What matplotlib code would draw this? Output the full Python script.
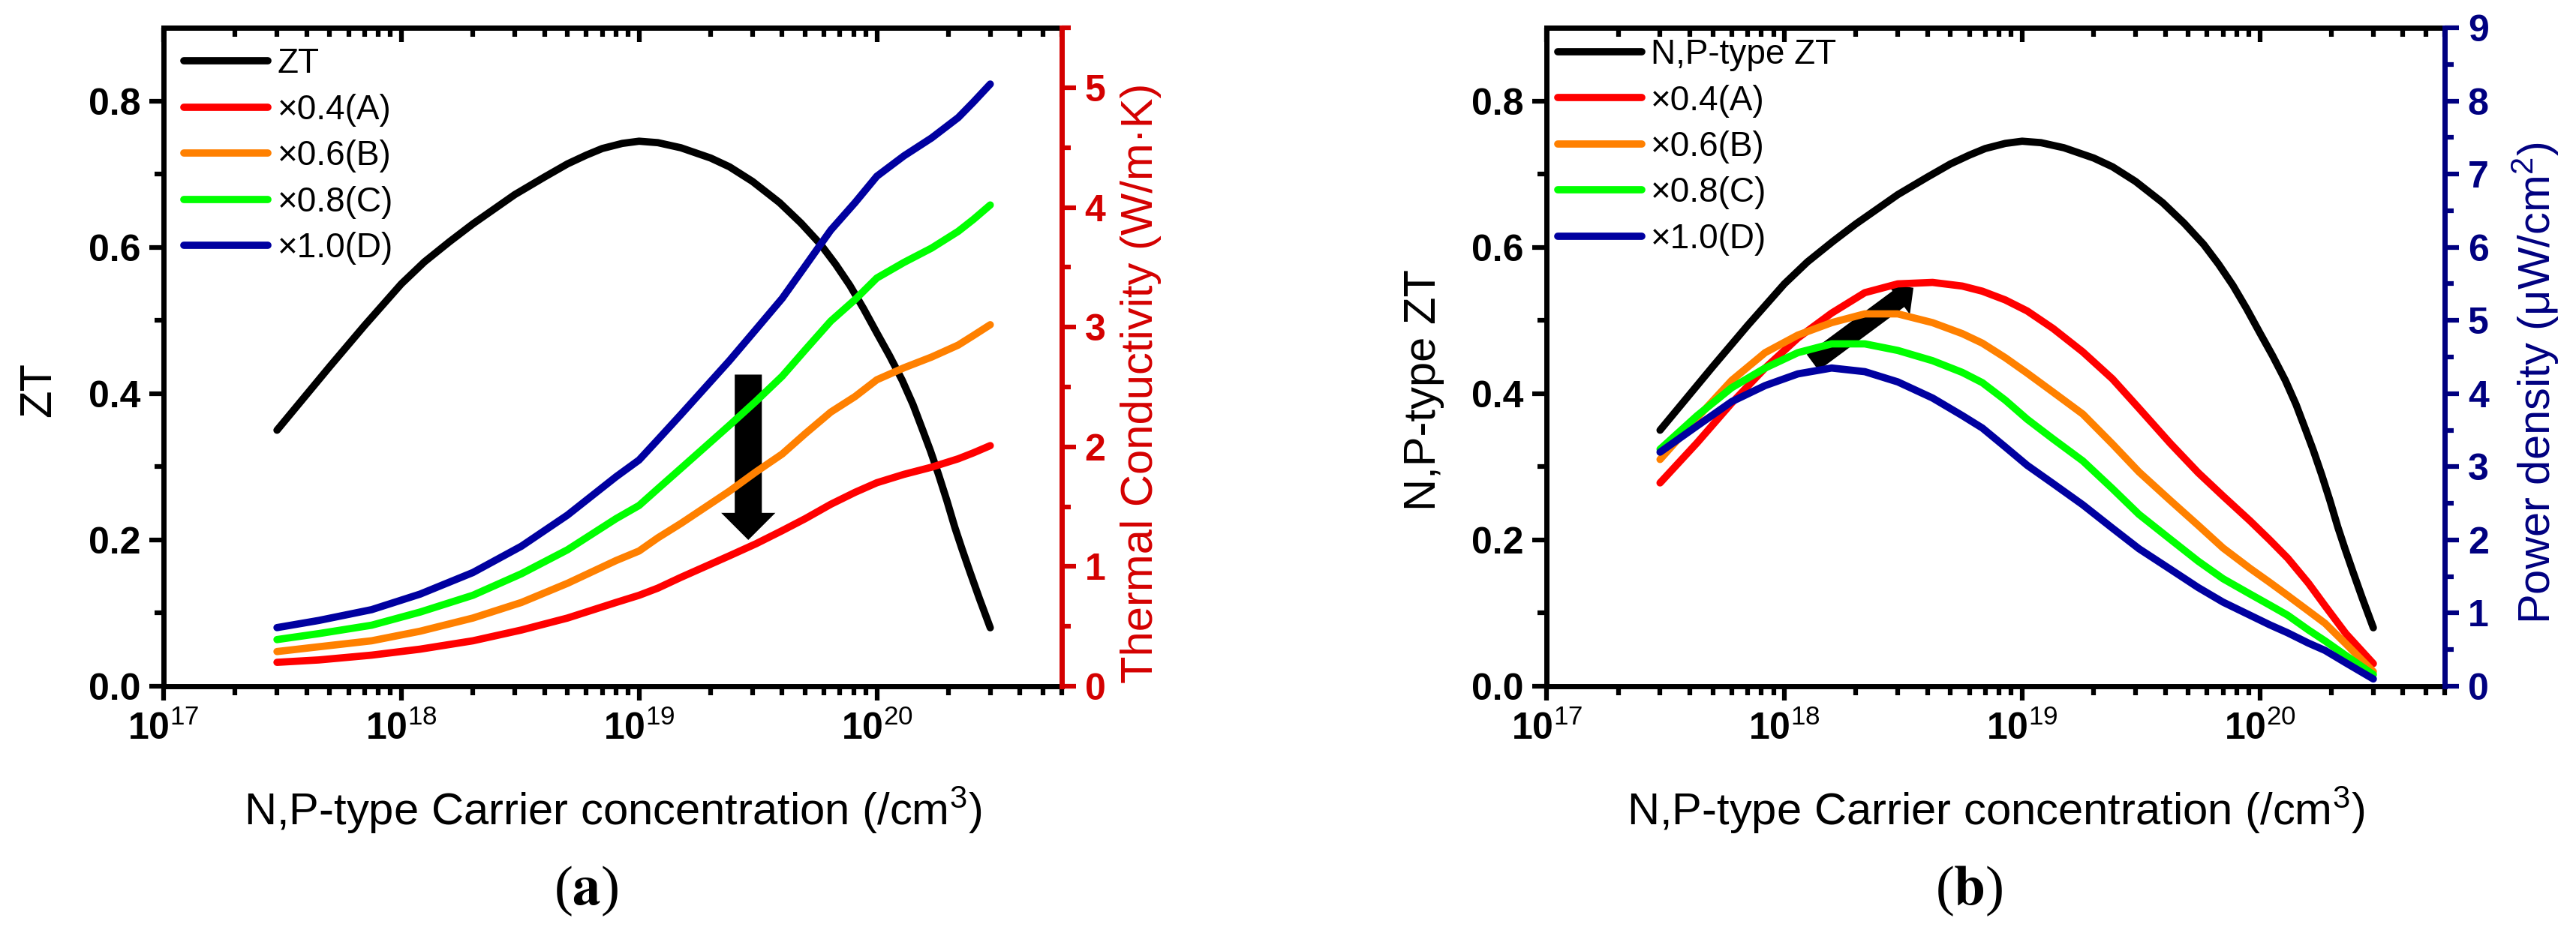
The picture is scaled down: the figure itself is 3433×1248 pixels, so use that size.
import numpy as np
import matplotlib.pyplot as plt
from matplotlib.ticker import LogLocator, NullFormatter
from matplotlib.patches import FancyArrowPatch

plt.rcParams['font.family'] = ['Liberation Sans', 'DejaVu Sans']
plt.rcParams['mathtext.fontset'] = 'custom'
plt.rcParams['mathtext.rm'] = 'Liberation Sans'
plt.rcParams['mathtext.it'] = 'Liberation Sans:italic'
plt.rcParams['mathtext.bf'] = 'Liberation Sans:bold'
plt.rcParams['lines.solid_capstyle'] = 'round'
plt.rcParams['lines.solid_joinstyle'] = 'round'

# ZT curve (same in both panels)
x_zt = [3e17, 5e17, 7e17, 1e18, 1.25e18, 1.6e18, 2e18, 2.5e18, 3e18, 4e18, 5e18, 6e18,
        7e18, 8.5e18, 1e19, 1.2e19, 1.5e19, 2e19, 2.4e19, 3e19, 3.9e19, 4.8e19, 5.8e19,
        6.7e19, 7.7e19, 8.8e19, 1e20, 1.13e20, 1.28e20, 1.42e20, 1.56e20, 1.68e20,
        1.82e20, 1.97e20, 2.13e20, 2.28e20, 2.46e20, 2.7e20, 3e20]
zt = [0.350, 0.437, 0.493, 0.550, 0.580, 0.608, 0.632, 0.654, 0.672, 0.696, 0.714, 0.726,
      0.735, 0.742, 0.745, 0.743, 0.736, 0.722, 0.710, 0.690, 0.661, 0.633, 0.604,
      0.577, 0.548, 0.516, 0.483, 0.452, 0.418, 0.385, 0.350, 0.322,
      0.289, 0.254, 0.217, 0.188, 0.157, 0.120, 0.080]

# (a) thermal conductivity, W/m.K
x_k = [3e17, 4.5e17, 7.5e17, 1.2e18, 2e18, 3.2e18, 5e18, 8e18, 1e19, 1.2e19, 1.5e19,
       2.4e19, 3.1e19, 4e19, 5e19, 6.4e19, 8.1e19, 1e20, 1.3e20, 1.7e20, 2.2e20,
       2.55e20, 3e20]
k_a = [0.20, 0.22, 0.26, 0.31, 0.38, 0.47, 0.57, 0.70, 0.76, 0.82, 0.91, 1.09, 1.19,
       1.30, 1.40, 1.52, 1.62, 1.70, 1.77, 1.83, 1.90, 1.95, 2.01]
k_b = [0.29, 0.33, 0.38, 0.46, 0.57, 0.70, 0.86, 1.05, 1.13, 1.24, 1.36, 1.63, 1.79,
       1.94, 2.11, 2.29, 2.42, 2.56, 2.66, 2.75, 2.85, 2.93, 3.02]
k_c = [0.39, 0.44, 0.51, 0.62, 0.76, 0.94, 1.14, 1.40, 1.51, 1.65, 1.82, 2.18, 2.38,
       2.59, 2.81, 3.05, 3.23, 3.41, 3.54, 3.66, 3.80, 3.90, 4.02]
k_d = [0.49, 0.55, 0.64, 0.77, 0.95, 1.17, 1.43, 1.75, 1.89, 2.06, 2.27, 2.72, 2.98,
       3.24, 3.51, 3.81, 4.04, 4.26, 4.43, 4.58, 4.75, 4.88, 5.03]

# (b) power density, uW/cm2
x_p = [3e17, 4.3e17, 6e17, 8.3e17, 1.14e18, 1.58e18, 2.18e18, 3e18, 4.2e18, 5.6e18,
       6.8e18, 8.5e18, 1.05e19, 1.35e19, 1.8e19, 2.4e19, 3.1e19, 4.2e19, 5.5e19, 7e19,
       9.1e19, 1.1e20, 1.31e20, 1.6e20, 1.88e20, 2.3e20, 3e20]
p_a = [2.78, 3.33, 3.87, 4.35, 4.76, 5.10, 5.38, 5.50, 5.52, 5.47, 5.40, 5.28, 5.13,
       4.89, 4.57, 4.20, 3.80, 3.32, 2.92, 2.60, 2.26, 2.00, 1.75, 1.41, 1.10, 0.72, 0.31]
p_b = [3.10, 3.67, 4.18, 4.56, 4.80, 4.97, 5.09, 5.09, 4.97, 4.82, 4.69, 4.49, 4.28,
       4.02, 3.72, 3.31, 2.93, 2.54, 2.20, 1.89, 1.61, 1.42, 1.24, 1.03, 0.86, 0.58, 0.20]
p_c = [3.24, 3.70, 4.08, 4.35, 4.56, 4.68, 4.68, 4.59, 4.45, 4.29, 4.15, 3.91, 3.65,
       3.38, 3.08, 2.70, 2.35, 2.01, 1.71, 1.47, 1.26, 1.11, 0.97, 0.77, 0.62, 0.42, 0.16]
p_d = [3.20, 3.56, 3.89, 4.11, 4.27, 4.35, 4.30, 4.16, 3.94, 3.70, 3.53, 3.27, 3.02,
       2.77, 2.48, 2.16, 1.88, 1.60, 1.35, 1.15, 0.97, 0.84, 0.73, 0.59, 0.49, 0.32, 0.10]

factor_labels = ['×0.4(A)', '×0.6(B)', '×0.8(C)', '×1.0(D)']
colors = ['#FF0000', '#FF8000', '#00FF00', '#0000A0']

x_ticks = [1e17, 1e18, 1e19, 1e20]
x_ticklabels = [r'$\mathbf{10}^{\mathrm{%d}}$' % e for e in (17, 18, 19, 20)]
zt_ticks = [0.0, 0.2, 0.4, 0.6, 0.8]

RED_AX = '#D40000'
NAVY = '#000080'
LW = 7
SP = 5
FS_TICK = 36
FS_LAB = 43


def setup_axes(ax, ax_r, rcolor, rmax, rlabel, llabel, lx, rx):
    ax.set_xscale('log')
    ax.set_xlim(1e17, 6e20)
    ax.set_ylim(0, 0.9)
    ax_r.set_ylim(0, rmax)

    ax.set_xticks(x_ticks, x_ticklabels, fontsize=FS_TICK)
    ax.xaxis.set_minor_locator(LogLocator(base=10, subs=np.arange(2, 10), numticks=100))
    ax.xaxis.set_minor_formatter(NullFormatter())
    ax.set_yticks(zt_ticks, ['%.1f' % t for t in zt_ticks], fontsize=FS_TICK, fontweight='bold')
    ax.set_yticks([0.1, 0.3, 0.5, 0.7], minor=True)

    ax.tick_params(which='major', length=14, width=4.5, direction='out')
    ax.tick_params(which='minor', length=8.5, width=4.5, direction='out')
    ax.tick_params(axis='x', which='major', pad=10)
    ax.tick_params(axis='y', which='major', pad=8)

    for s in ['left', 'bottom', 'top']:
        ax.spines[s].set_linewidth(SP)
    ax.spines['right'].set_visible(False)

    # inward ticks along the top edge
    top = ax.secondary_xaxis('top')
    top.set_xticks(x_ticks)
    top.xaxis.set_major_formatter(NullFormatter())
    top.xaxis.set_minor_locator(LogLocator(base=10, subs=np.arange(2, 10), numticks=100))
    top.xaxis.set_minor_formatter(NullFormatter())
    top.tick_params(which='major', direction='in', length=14, width=4.5)
    top.tick_params(which='minor', direction='in', length=8.5, width=4.5)
    top.spines['top'].set_linewidth(SP)

    rt = list(range(0, int(rmax) + 1))
    ax_r.set_yticks(rt, [str(t) for t in rt], fontsize=FS_TICK, fontweight='bold', color=rcolor)
    ax_r.set_yticks([t + 0.5 for t in rt if t + 0.5 <= rmax], minor=True)
    ax_r.tick_params(which='major', length=14, width=4.5, direction='out', color=rcolor, pad=8)
    ax_r.tick_params(which='minor', length=8.5, width=4.5, direction='out', color=rcolor)
    for s in ['left', 'bottom', 'top']:
        ax_r.spines[s].set_visible(False)
    ax_r.spines['right'].set_linewidth(SP)
    ax_r.spines['right'].set_color(rcolor)

    ax.set_xlabel('N,P-type Carrier concentration (/cm$^{3}$)', fontsize=FS_LAB)
    ax.xaxis.set_label_coords(0.5, -0.15)
    ax.set_ylabel(llabel, fontsize=FS_LAB)
    ax.yaxis.set_label_coords(lx, 0.45)
    ax_r.set_ylabel(rlabel, fontsize=FS_LAB, color=rcolor)
    ax_r.yaxis.set_label_coords(rx, 0.46)


def add_legend(ax, handles, anchor):
    ax.legend(handles=handles, loc='upper left', bbox_to_anchor=anchor,
              frameon=False, fontsize=33, handlelength=2.45, handletextpad=0.27,
              labelspacing=0.38, borderpad=0, borderaxespad=0)


fig = plt.figure(figsize=(34.33, 12.48), dpi=100)

# ---- (a)
ax1 = fig.add_axes([0.0635, 0.2668, 0.3487, 0.7035])
ax2 = ax1.twinx()
setup_axes(ax1, ax2, RED_AX, 5.5, 'Thermal Conductivity (W/m·K)', 'ZT', -0.116, 1.065)

h_zt, = ax1.plot(x_zt, zt, color='black', lw=LW, label='ZT')
handles = [h_zt]
for y, c, lab in zip([k_a, k_b, k_c, k_d], colors, factor_labels):
    h, = ax2.plot(x_k, y, color=c, lw=LW, label=lab)
    handles.append(h)

arr_a = FancyArrowPatch((2.88e19, 0.426), (2.88e19, 0.200), transform=ax1.transData,
                        arrowstyle='simple,head_length=26,head_width=52,tail_width=26',
                        mutation_scale=1, shrinkA=0, shrinkB=0, color='black', lw=0)
ax2.add_patch(arr_a)
add_legend(ax2, handles, (0.0226, 0.97))

# ---- (b)
ax3 = fig.add_axes([0.6004, 0.2668, 0.3487, 0.7035])
ax4 = ax3.twinx()
setup_axes(ax3, ax4, NAVY, 9, 'Power density (μW/cm$^{2}$)', 'N,P-type ZT', -0.114, 1.073)

h_zt2, = ax3.plot(x_zt, zt, color='black', lw=LW, label='N,P-type ZT')
handles = [h_zt2]
for y, c, lab in zip([p_a, p_b, p_c, p_d], colors, factor_labels):
    h, = ax4.plot(x_p, y, color=c, lw=LW, label=lab)
    handles.append(h)

arr_b = FancyArrowPatch((1.315e18, 0.4426), (3.49e18, 0.5446), transform=ax3.transData,
                        arrowstyle='simple,head_length=18,head_width=37,tail_width=19',
                        mutation_scale=1, shrinkA=0, shrinkB=0, color='black', lw=0)
ax4.add_patch(arr_b)
add_legend(ax4, handles, (0.012, 0.984))

# panel letters
for ax, letter in [(ax1, 'a'), (ax3, 'b')]:
    x_c = ax.get_position().x0 + 0.47 * ax.get_position().width
    fig.text(x_c, 0.048, r'($\mathbf{%s}$)' % letter, fontsize=54, ha='center', va='center',
             family='Liberation Serif', math_fontfamily='stix')

fig.savefig('out.png', dpi=100)
